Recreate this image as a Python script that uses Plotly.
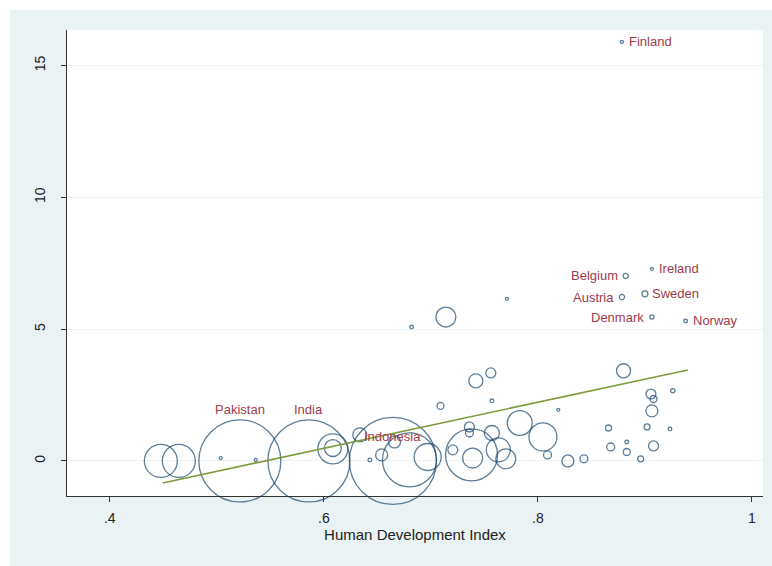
import plotly.graph_objects as go
import numpy as np

# ---- data ----
country = ["Finland", "Belgium", "Ireland", "Austria", "Sweden", "Denmark", "Norway",
           "Pakistan", "India", "Indonesia"]
country_hdi = [0.8785, 0.882, 0.9065, 0.8785, 0.900, 0.9065, 0.938,
               0.5215, 0.586, 0.6645]
country_val = [15.9, 7.02, 7.29, 6.22, 6.34, 5.46, 5.31,
               0.0, 0.0, 0.0]
country_wt = [1, 3, 1, 3, 4, 2, 1.5,
              747, 747, 841]

other_hdi = [0.4477, 0.4645, 0.5037, 0.5364, 0.6084, 0.6084, 0.6336, 0.680, 0.643, 0.654,
             0.666, 0.697, 0.709, 0.714, 0.682, 0.7205, 0.738, 0.739, 0.736, 0.736,
             0.757, 0.742, 0.756, 0.757, 0.771, 0.763, 0.770, 0.783, 0.8047, 0.809,
             0.819, 0.828, 0.843, 0.866, 0.868, 0.883, 0.883, 0.880, 0.896, 0.902,
             0.9056, 0.908, 0.9065, 0.908, 0.9234, 0.926]
other_val = [0.0, 0.0, 0.11, 0.04, 0.46, 0.49, 0.99, 0.04, 0.04, 0.23,
             0.72, 0.15, 2.09, 5.46, 5.08, 0.42, 0.23, 0.11, 1.29, 1.06,
             1.06, 3.04, 3.34, 2.28, 6.15, 0.42, 0.08, 1.44, 0.91, 0.23,
             1.94, 0.0, 0.08, 1.25, 0.53, 0.72, 0.34, 3.42, 0.08, 1.29,
             2.54, 2.35, 1.9, 0.57, 1.21, 2.66]
other_wt = [121, 121, 1, 1, 100, 32, 22, 324, 1.5, 16,
            16, 81, 5.4, 44, 1.5, 11, 300, 44, 11, 7,
            25, 22, 11, 1.5, 1, 64, 44, 69, 87, 7,
            1, 16, 7, 4, 7, 1.5, 5.4, 22, 4, 4,
            11, 5.4, 16, 11, 1.5, 2]

fit_x = [0.4495, 0.940]
fit_y = [-0.835, 3.45]

x_ticks = [0.4, 0.6, 0.8, 1.0]
x_ticklabels = [".4", ".6", ".8", "1"]
y_ticks = [0, 5, 10, 15]
y_ticklabels = ["0", "5", "10", "15"]

# label placement style: side of the marker
label_side = ["right", "left", "right", "left", "right", "left", "right", "top", "top", "top"]

NAVY = "#1a476f"
MAROON = "#a03b4c"
BG = "#eaf2f3"

all_hdi = other_hdi + country_hdi
all_val = other_val + country_val
all_wt = other_wt + country_wt
diam = [max(3.0, 3.0 * np.sqrt(w)) for w in all_wt]

fig = go.Figure()
fig.add_trace(go.Scatter(
    x=all_hdi, y=all_val, mode="markers",
    marker=dict(size=diam, sizemode="diameter", color="rgba(0,0,0,0)",
                line=dict(color=NAVY, width=1.3), symbol="circle"),
    cliponaxis=False, hoverinfo="skip", showlegend=False))
fig.add_trace(go.Scatter(
    x=fit_x, y=fit_y, mode="lines",
    line=dict(color="#7f9a3a", width=1.6),
    hoverinfo="skip", showlegend=False))

for name, xv, yv, side in zip(country, country_hdi, country_val, label_side):
    if side == "right":
        fig.add_annotation(x=xv, y=yv, text=name, showarrow=False, xanchor="left",
                           yanchor="middle", xshift=5, font=dict(size=13, color=MAROON))
    elif side == "left":
        fig.add_annotation(x=xv, y=yv, text=name, showarrow=False, xanchor="right",
                           yanchor="middle", xshift=-6, font=dict(size=13, color=MAROON))
    else:
        ys = 24 if name == "Indonesia" else 51
        fig.add_annotation(x=xv, y=yv, text=name, showarrow=False, xanchor="center",
                           yanchor="middle", yshift=ys, font=dict(size=13, color=MAROON))

fig.update_layout(
    width=762, height=556,
    margin=dict(l=57, r=9, t=20, b=70),
    paper_bgcolor=BG, plot_bgcolor="white",
    font=dict(family="Liberation Sans, Arial, sans-serif", color="#222222"),
    xaxis=dict(range=[0.36, 1.0103], tickvals=x_ticks, ticktext=x_ticklabels,
               showgrid=False, zeroline=False, showline=True, linecolor="#333333",
               linewidth=1.2, ticks="outside", ticklen=5, tickcolor="#333333",
               tickfont=dict(size=14), ticklabelstandoff=4,
               title=dict(text="Human Development Index", font=dict(size=15), standoff=4)),
    yaxis=dict(range=[-1.33, 16.35], tickvals=y_ticks, ticktext=y_ticklabels,
               showgrid=True, gridcolor=BG, gridwidth=1, zeroline=False,
               showline=True, linecolor="#333333", linewidth=1.2,
               ticks="outside", ticklen=5, tickcolor="#333333",
               tickfont=dict(size=14), tickangle=-90, ticklabelstandoff=10),
)

page_style = (
    "document.documentElement.style.background='" + BG + "';"
    "document.body.style.margin='0';"
    "document.body.style.borderTop='10px solid white';"
    "document.body.style.borderLeft='10px solid white';"
)

fig.write_html("out.html", post_script=page_style)
